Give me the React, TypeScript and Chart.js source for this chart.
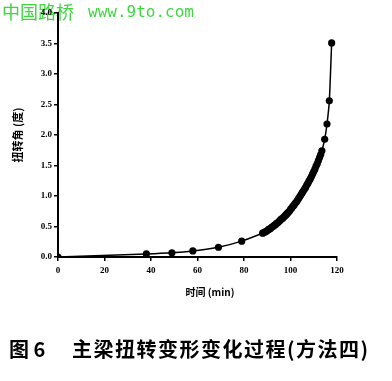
import React, { useEffect, useRef } from "react";
import { Chart, registerables } from "chart.js";

Chart.register(...registerables);

// ---- data ----
const timeMin = [
  0, 38, 49, 58, 69, 79,
  88, 88.5, 89, 89.5, 90, 90.5, 91, 91.5, 92, 92.5, 93, 93.5, 94, 94.5, 95, 95.5,
  96, 96.5, 97, 97.5, 98, 98.5, 99, 99.5, 100, 100.5, 101, 101.5, 102, 102.5,
  103, 103.5, 104, 104.5, 105, 105.5, 106, 106.5, 107, 107.5, 108, 108.5, 109,
  109.5, 110, 110.5, 111, 111.5, 112, 112.5, 113, 113.5, 114.7, 115.7, 116.7, 117.7,
];
const twistDeg = [
  0.0, 0.05, 0.07, 0.1, 0.16, 0.26,
  0.39, 0.4, 0.41, 0.42, 0.43, 0.45, 0.46, 0.47, 0.49, 0.5, 0.52, 0.53, 0.55, 0.56,
  0.58, 0.6, 0.62, 0.63, 0.65, 0.67, 0.69, 0.71, 0.73, 0.75, 0.78, 0.8, 0.83, 0.85,
  0.88, 0.9, 0.93, 0.96, 0.99, 1.02, 1.05, 1.08, 1.11, 1.14, 1.18, 1.21, 1.25, 1.28,
  1.32, 1.36, 1.4, 1.44, 1.49, 1.53, 1.58, 1.63, 1.68, 1.74, 1.93, 2.18, 2.56, 3.51,
];
const xTickValues = [0, 20, 40, 60, 80, 100, 120];
const yTickValues = [0, 0.5, 1.0, 1.5, 2.0, 2.5, 3.0, 3.5, 4.0];

const yTitle = "扭转角 (度)";
const xTitle = "时间 (min)";
const captionFig = "图 6";
const captionText = "主梁扭转变形变化过程(方法四)";
const watermarkCn = "中国路桥";
const watermarkUrl = "www.9to.com";

const extrasPlugin = {
  id: "extras",
  beforeDraw(chart: any) {
    const ctx = chart.ctx;
    ctx.save();
    ctx.fillStyle = "#fff";
    ctx.fillRect(0, 0, chart.width, chart.height);
    // watermark (underneath the chart)
    ctx.fillStyle = "#3ed83e";
    ctx.textBaseline = "middle";
    ctx.textAlign = "left";
    ctx.font = '18px "Noto Sans CJK SC"';
    ctx.fillText(watermarkCn, 2, 12);
    ctx.font = '16px "DejaVu Sans Mono"';
    ctx.fillText(watermarkUrl, 88, 13);
    ctx.restore();
  },
  afterDraw(chart: any) {
    const ctx = chart.ctx;
    ctx.save();
    ctx.textBaseline = "middle";
    // x title
    ctx.fillStyle = "#000";
    ctx.font = 'bold 10px "Noto Sans CJK SC"';
    ctx.textAlign = "center";
    ctx.fillText(xTitle, 210, 292);
    // caption
    ctx.font = 'bold 20px "Noto Sans CJK SC"';
    ctx.textAlign = "left";
    (ctx as any).letterSpacing = "0px";
    ctx.fillText(captionFig, 9, 349);
    (ctx as any).letterSpacing = "1.5px";
    ctx.fillText(captionText, 72, 349);
    ctx.restore();
  },
};

export default function App() {
  const ref = useRef<HTMLCanvasElement>(null);
  useEffect(() => {
    if (!ref.current) return;
    const chart = new Chart(ref.current, {
      type: "line",
      data: {
        datasets: [
          {
            data: timeMin.map((t, i) => ({ x: t, y: twistDeg[i] })),
            borderColor: "#000",
            backgroundColor: "#000",
            borderWidth: 1.5,
            pointRadius: 3.6,
            pointBorderWidth: 0,
            tension: 0.2,
          },
        ],
      },
      plugins: [extrasPlugin],
      options: {
        animation: false,
        responsive: false,
        events: [],
        layout: { padding: { left: 0, top: 13, right: 55, bottom: 81 } },
        plugins: { legend: { display: false }, tooltip: { enabled: false } },
        scales: {
          x: {
            type: "linear",
            min: 0,
            max: 120,
            afterFit: (s: any) => {
              s.height = 43;
            },
            afterBuildTicks: (s: any) => {
              s.ticks = xTickValues.map((v) => ({ value: v }));
            },
            border: { display: true, color: "#000", width: 2 },
            grid: {
              display: true,
              drawOnChartArea: false,
              drawTicks: true,
              tickLength: 4,
              color: "#000",
              lineWidth: 1.5,
            },
            ticks: {
              color: "#000",
              padding: 4,
              maxRotation: 0,
              font: { family: '"Liberation Serif"', weight: "bold", size: 9 },
              callback: (v: any) => String(v),
            },
            title: { display: false },
          },
          y: {
            type: "linear",
            min: 0,
            max: 4,
            afterFit: (s: any) => {
              s.width = 58;
            },
            afterBuildTicks: (s: any) => {
              s.ticks = yTickValues.map((v) => ({ value: v }));
            },
            border: { display: true, color: "#000", width: 2 },
            grid: {
              display: true,
              drawOnChartArea: false,
              drawTicks: true,
              tickLength: 4,
              color: "#000",
              lineWidth: 1.5,
            },
            ticks: {
              color: "#000",
              padding: 2,
              font: { family: '"Liberation Serif"', weight: "bold", size: 9 },
              callback: (v: any) => Number(v).toFixed(1),
            },
            title: {
              display: true,
              text: yTitle,
              color: "#000",
              font: { family: '"Noto Sans CJK SC"', weight: "bold", size: 11 },
              padding: { top: 11, bottom: 0 },
            },
          },
        },
      },
    });
    return () => chart.destroy();
  }, []);
  return (
    <div
      style={{
        position: "fixed",
        left: 0,
        top: 0,
        width: 392,
        height: 381,
        background: "#fff",
      }}
    >
      <canvas ref={ref} width={392} height={381} style={{ display: "block" }} />
    </div>
  );
}
